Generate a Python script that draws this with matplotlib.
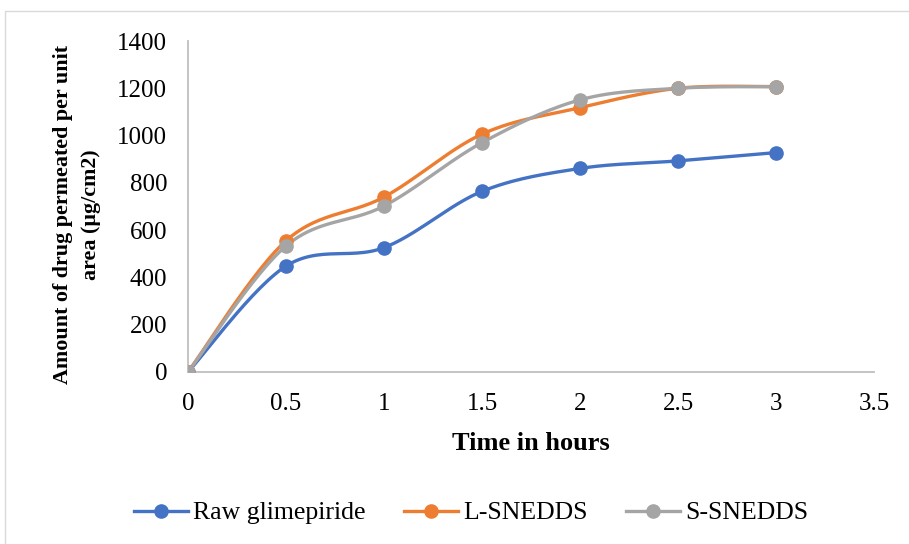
import numpy as np
import matplotlib.pyplot as plt
from matplotlib.lines import Line2D
from matplotlib.patches import Rectangle

plt.rcParams['font.family'] = ['Liberation Serif', 'DejaVu Serif']

# Data
time_h = [0, 0.5, 1, 1.5, 2, 2.5, 3]
raw_glimepiride = [0, 448, 526, 764, 861, 893, 928]
l_snedds = [0, 555, 740, 1006, 1118, 1200, 1207]
s_snedds = [0, 533, 702, 970, 1151, 1200, 1207]

series = [
    ("Raw glimepiride", raw_glimepiride, "#4472C4"),
    ("L-SNEDDS", l_snedds, "#ED7D31"),
    ("S-SNEDDS", s_snedds, "#A5A5A5"),
]


def smooth(x, y, n=30):
    # Excel-like smoothed line: cubic Bezier through points, Catmull-Rom tangents
    x = np.asarray(x, float)
    y = np.asarray(y, float)
    px = np.concatenate([[x[0]], x, [x[-1]]])
    py = np.concatenate([[y[0]], y, [y[-1]]])
    t = np.linspace(0, 1, n)
    xs, ys = [], []
    for i in range(1, len(px) - 2):
        p0 = np.array([px[i], py[i]])
        p3 = np.array([px[i + 1], py[i + 1]])
        c1 = p0 + (np.array([px[i + 1], py[i + 1]]) - np.array([px[i - 1], py[i - 1]])) / 6
        c2 = p3 - (np.array([px[i + 2], py[i + 2]]) - np.array([px[i], py[i]])) / 6
        b = ((1 - t) ** 3)[:, None] * p0 + (3 * (1 - t) ** 2 * t)[:, None] * c1 \
            + (3 * (1 - t) * t ** 2)[:, None] * c2 + (t ** 3)[:, None] * p3
        xs.extend(b[:, 0])
        ys.extend(b[:, 1])
    return xs, ys


fig = plt.figure(figsize=(9.09, 5.44), dpi=100)
ax = fig.add_axes([188 / 909, 1 - 372 / 544, (874 - 188) / 909, (372 - 41) / 544])

for name, vals, col in series:
    sx, sy = smooth(time_h, vals)
    ax.plot(sx, sy, color=col, lw=2.4, solid_capstyle='round', zorder=2)
    ax.plot(time_h, vals, 'o', color=col, ms=9.5, zorder=3)

ax.set_xlim(0, 3.5)
ax.set_ylim(0, 1400)
ax.set_xticks(np.arange(0, 3.51, 0.5))
ax.set_xticklabels(['0', '0.5', '1', '1.5', '2', '2.5', '3', '3.5'])
ax.set_yticks(np.arange(0, 1401, 200))
ax.tick_params(length=0, labelsize=18, pad=15)
for s in ['top', 'right']:
    ax.spines[s].set_visible(False)
for s in ['left', 'bottom']:
    ax.spines[s].set_color('#BFBFBF')
    ax.spines[s].set_linewidth(1.3)
ax.patch.set_alpha(0)

fig.text(531 / 909, 1 - 450 / 544, 'Time in hours', ha='center', va='baseline',
         fontsize=19, fontweight='bold')
fig.text(77 / 909, 1 - 215 / 544, 'Amount of drug permeated per unit\narea (µg/cm2)',
         rotation=90, ha='center', va='center', fontsize=15.8, fontweight='bold',
         linespacing=1.5)

handles = [Line2D([], [], color=c, lw=2.4, marker='o', ms=9.5) for _, _, c in series]
fig.legend(handles, [n for n, _, _ in series], loc='center', bbox_to_anchor=(471 / 909, 1 - 513 / 544),
           ncol=3, frameon=False, fontsize=18.5, handlelength=2.1, handletextpad=0.2,
           columnspacing=1.5, borderaxespad=0, borderpad=0)

fig.patches.append(Rectangle((5 / 909, -0.01), 1.0, 1 - 11 / 544 + 0.01, transform=fig.transFigure,
                             fill=False, edgecolor='#D9D9D9', lw=1.0))

fig.savefig('out.png', dpi=100)
